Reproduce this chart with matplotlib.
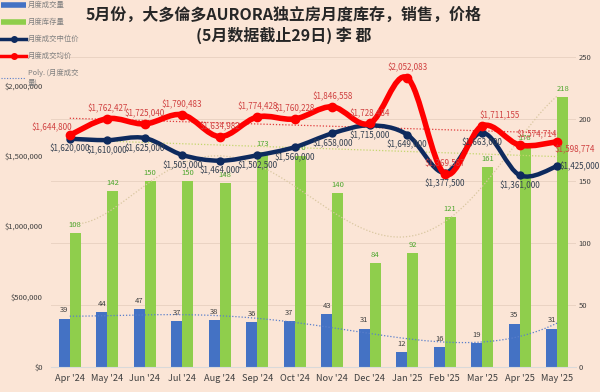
import numpy as np
import matplotlib
matplotlib.use("Agg")
import matplotlib.pyplot as plt
from matplotlib.path import Path
from matplotlib.patches import PathPatch
from matplotlib.lines import Line2D

plt.rcParams['font.family'] = ['Noto Sans CJK SC', 'DejaVu Sans']

months = ["Apr '24", "May '24", "Jun '24", "Jul '24", "Aug '24", "Sep '24", "Oct '24",
          "Nov '24", "Dec '24", "Jan '25", "Feb '25", "Mar '25", "Apr '25", "May '25"]
sales = [39, 44, 47, 37, 38, 36, 37, 43, 31, 12, 16, 19, 35, 31]
inventory = [108, 142, 150, 150, 148, 173, 170, 140, 84, 92, 121, 161, 178, 218]
median_price = [1620000, 1610000, 1625000, 1505000, 1464000, 1502500, 1560000,
                1658000, 1715000, 1649000, 1377500, 1663000, 1361000, 1425000]
avg_price = [1644800, 1762427, 1725040, 1790483, 1634982, 1774428, 1760228,
             1846558, 1728484, 2052083, 1369587, 1711155, 1574714, 1598774]

title1 = "5月份，大多倫多AURORA独立房月度库存，销售，价格"
title2 = "(5月数据截止29日) 李 郡"

BG = "#FBE5D6"
BLUE = "#4472C4"
GREEN = "#8FCE4C"
NAVY = "#0E2A5E"
RED = "#FF0000"

fig = plt.figure(figsize=(6, 3.92), dpi=100, facecolor=BG)
ax = fig.add_axes([0.085, 0.0638, 0.875, 0.7908], facecolor=BG)
ax2 = ax.twinx()

x = np.arange(len(months))
w = 0.29

# bars on count axis (right side)
ax.bar(x - w / 2, sales, width=w, color=BLUE, zorder=2)
ax.bar(x + w / 2, inventory, width=w, color=GREEN, zorder=2)
for xi, v in zip(x, sales):
    ax.annotate(str(v), (xi - w / 2, v), xytext=(0, 3), textcoords="offset points",
                ha="center", va="bottom", fontsize=5.5, color="#404040", zorder=5)
for xi, v in zip(x, inventory):
    ax.annotate(str(v), (xi + w / 2, v), xytext=(0, 3), textcoords="offset points",
                ha="center", va="bottom", fontsize=5.5, color="#4EA72E", zorder=5)

# poly trendlines for counts
xf = np.linspace(0, len(months) - 1, 200)
ps = np.polyfit(x, sales, 4)
ax.plot(xf, np.polyval(ps, xf), ls=(0, (1, 1.5)), lw=0.9, color="#5B7FCB", zorder=3)
pi = np.polyfit(x, inventory, 5)
ax.plot(xf, np.polyval(pi, xf), ls=(0, (1, 1.5)), lw=0.9, color="#D9C7A0", zorder=3)

ax.set_ylim(0, 250)
ax.set_yticks([0, 50, 100, 150, 200, 250])
ax.yaxis.tick_right()
ax.yaxis.set_label_position("right")
ax.grid(axis="y", color="#EAD3C3", lw=0.7, zorder=0)
ax.set_axisbelow(True)
ax.set_xlim(-0.5, len(months) - 0.5)
ax.set_xticks(x)
ax.set_xticklabels(months)
ax.tick_params(axis="x", length=0, labelsize=6.6, colors="#404040", pad=5)
ax.tick_params(axis="y", length=0, labelsize=5.5, colors="#404040", pad=2)
for s in ["top", "left", "right"]:
    ax.spines[s].set_visible(False)
ax.spines["bottom"].set_color("#D9D9D9")
for s in ["top", "left", "right", "bottom"]:
    ax2.spines[s].set_visible(False)


def smooth_path(xs, ys):
    verts = [(xs[0], ys[0])]
    codes = [Path.MOVETO]
    n = len(xs)
    for i in range(n - 1):
        p0 = (xs[i - 1], ys[i - 1]) if i > 0 else (xs[i], ys[i])
        p1 = (xs[i], ys[i])
        p2 = (xs[i + 1], ys[i + 1])
        p3 = (xs[i + 2], ys[i + 2]) if i + 2 < n else p2
        c1 = (p1[0] + (p2[0] - p0[0]) / 6, p1[1] + (p2[1] - p0[1]) / 6)
        c2 = (p2[0] - (p3[0] - p1[0]) / 6, p2[1] - (p3[1] - p1[1]) / 6)
        verts += [c1, c2, p2]
        codes += [Path.CURVE4] * 3
    return Path(verts, codes)


# price trendlines (linear)
pm = np.polyfit(x, median_price, 1)
ax2.plot(xf, np.polyval(pm, xf), ls=(0, (1, 1.5)), lw=0.9, color="#C3D66E", zorder=3)
pa = np.polyfit(x, avg_price, 1)
ax2.plot(xf, np.polyval(pa, xf), ls=(0, (1, 1.5)), lw=0.9, color="#E03C3C", zorder=3)

ax2.add_patch(PathPatch(smooth_path(x, median_price), fill=False, ec=NAVY, lw=3.2,
                        capstyle="round", joinstyle="round", zorder=4))
ax2.plot(x, median_price, "o", color=NAVY, ms=5, zorder=4)
ax2.add_patch(PathPatch(smooth_path(x, avg_price), fill=False, ec=RED, lw=4,
                        capstyle="round", joinstyle="round", zorder=5))
ax2.plot(x, avg_price, "o", color=RED, ms=6, zorder=5)

ax2.set_ylim(0, 2200000)
ax2.set_yticks([0, 500000, 1000000, 1500000, 2000000])
ax2.set_yticklabels(["$0", "$500,000", "$1,000,000", "$1,500,000", "$2,000,000"])
ax2.yaxis.tick_left()
ax2.tick_params(axis="y", length=0, labelsize=5.5, colors="#404040", pad=6)


def money(v):
    return "${:,}".format(v)


for i, v in enumerate(median_price):
    if i == len(months) - 1:
        ax2.annotate(money(v), (i, v), xytext=(1.5, 0), textcoords="offset points",
                     ha="left", va="center", fontsize=5.8, color="#333F50", zorder=6)
    else:
        ax2.annotate(money(v), (i, v), xytext=(0, -4), textcoords="offset points",
                     ha="center", va="top", fontsize=5.8, color="#333F50", zorder=6)

for i, v in enumerate(avg_price):
    if i == 0:
        ax2.annotate(money(v), (i, v), xytext=(2, 2), textcoords="offset points",
                     ha="right", va="bottom", fontsize=5.8, color="#D04040", zorder=6)
    elif i in (11, 12):
        ax2.annotate(money(v), (i, v), xytext=(-2, 4), textcoords="offset points",
                     ha="left", va="bottom", fontsize=5.8, color="#D04040", zorder=6)
    elif i == len(months) - 1:
        ax2.annotate(money(v), (i, v), xytext=(-2, -2), textcoords="offset points",
                     ha="left", va="top", fontsize=5.8, color="#D04040", zorder=6)
    else:
        ax2.annotate(money(v), (i, v), xytext=(0, 4), textcoords="offset points",
                     ha="center", va="bottom", fontsize=5.8, color="#D04040", zorder=6)

ax.set_zorder(1)
ax.patch.set_visible(True)
ax2.set_zorder(2)

fig.text(0.473, 0.962, title1, ha="center", va="center", fontsize=11.5,
         fontweight="bold", color="#262626")
fig.text(0.473, 0.91, title2, ha="center", va="center", fontsize=11.5,
         fontweight="bold", color="#262626")

handles = [
    Line2D([], [], color=BLUE, lw=4, solid_capstyle="butt"),
    Line2D([], [], color=GREEN, lw=4, solid_capstyle="butt"),
    Line2D([], [], color=NAVY, lw=2.5, marker="o", ms=4),
    Line2D([], [], color=RED, lw=2.5, marker="o", ms=4),
    Line2D([], [], color="#5B7FCB", lw=0.8, ls=(0, (1, 1.5))),
]
labels = ["月度成交量", "月度库存量", "月度成交中位价", "月度成交均价", "Poly. (月度成交\n量)"]
fig.legend(handles, labels, loc="upper left", bbox_to_anchor=(-0.005, 1.008),
           frameon=False, fontsize=5.3, labelcolor="#7F7F7F", handlelength=3.3,
           handletextpad=0.3, labelspacing=1.22, borderaxespad=0.2)

fig.savefig("out.png", dpi=100, facecolor=BG)
